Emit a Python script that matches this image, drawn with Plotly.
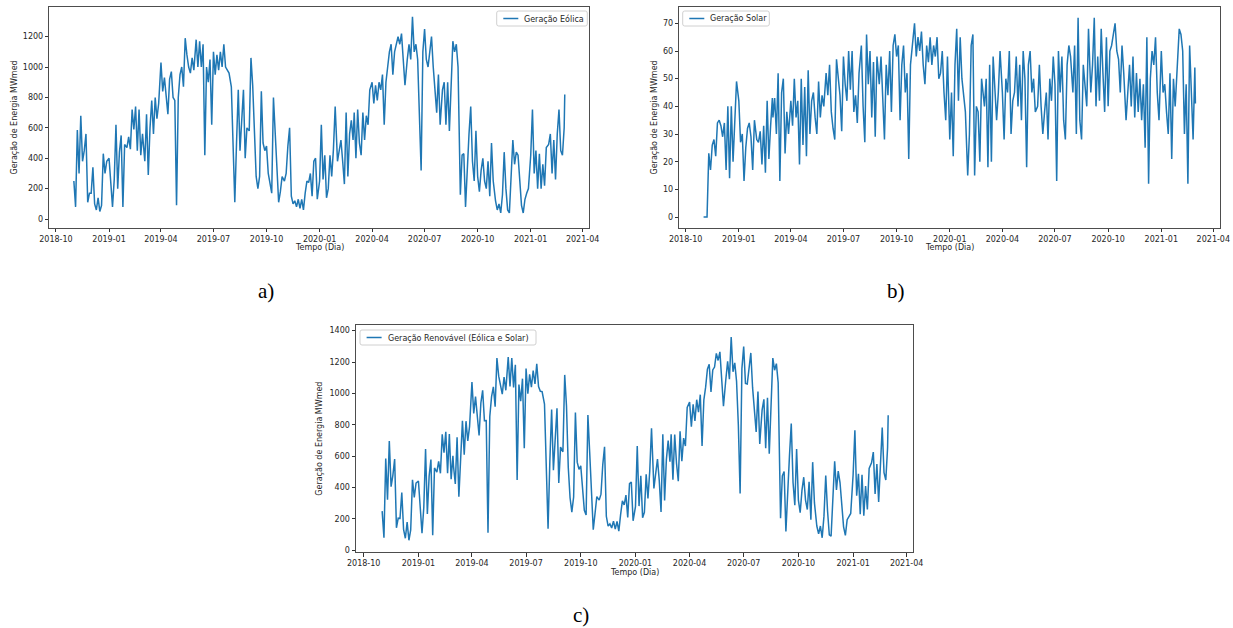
import pandas as pd
import plotly.graph_objects as go

# ---------------- data ----------------
# sampling: days 1,4,...,28 of every month Nov-2018 .. Feb-2021, plus 2021-03-01
MONTHS = pd.date_range("2018-11-01", "2021-02-01", freq="MS")
DAYS = [1, 4, 7, 10, 13, 16, 19, 22, 25, 28]
LAST_DATE = "2021-03-01"

WIND = [
    250, 80, 585, 300, 680, 380, 450, 560, 110, 170,          # 2018-11
    170, 340, 100, 60, 140, 50, 90, 430, 300, 380,            # 2018-12
    400, 260, 80, 260, 620, 200, 440, 550, 80, 490,           # 2019-01
    470, 540, 460, 720, 590, 740, 450, 720, 420, 560,         # 2019-02
    500, 380, 690, 290, 600, 780, 560, 800, 660, 760,         # 2019-03
    1030, 840, 930, 800, 690, 920, 970, 800, 780, 90,         # 2019-04
    800, 950, 1000, 870, 1190, 1080, 1000, 960, 1060, 980,    # 2019-05
    1180, 1000, 1170, 1000, 1150, 420, 1000, 900, 1050, 620,  # 2019-06
    1100, 950, 1080, 980, 1100, 1000, 1150, 1000, 980, 960,   # 2019-07
    870, 450, 110, 500, 850, 450, 700, 850, 400, 600,         # 2019-08
    580, 1060, 880, 500, 280, 200, 280, 840, 500, 450,        # 2019-09
    480, 300, 220, 170, 800, 580, 350, 110, 180, 280,         # 2019-10
    250, 300, 480, 600, 150, 100, 120, 80, 130, 70,           # 2019-11
    130, 60, 170, 250, 240, 300, 150, 380, 400, 130,          # 2019-12
    250, 620, 260, 420, 140, 200, 420, 280, 460, 740,         # 2020-01
    380, 460, 520, 380, 230, 700, 280, 560, 650, 520,         # 2020-02
    700, 400, 720, 500, 420, 700, 520, 680, 620, 850,         # 2020-03
    900, 760, 880, 780, 900, 850, 950, 620, 900, 1000,        # 2020-04
    1100, 1150, 950, 1100, 1150, 1200, 1150, 1220, 1050, 880, # 2020-05
    1050, 1150, 1050, 1330, 1100, 1150, 1050, 750, 320, 1100, # 2020-06
    1250, 1050, 1000, 1100, 1200, 1000, 850, 700, 950, 620,   # 2020-07
    850, 900, 620, 900, 580, 950, 1170, 1100, 1150, 1000,     # 2020-08
    160, 420, 430, 80, 350, 560, 740, 380, 250, 580,          # 2020-09
    280, 180, 320, 400, 250, 200, 380, 150, 500, 250,         # 2020-10
    120, 60, 100, 40, 160, 440, 200, 60, 40, 320,             # 2020-11
    520, 360, 440, 420, 260, 90, 40, 130, 170, 200,           # 2020-12
    420, 720, 300, 450, 200, 430, 200, 360, 220, 470,         # 2021-01
    490, 560, 300, 520, 260, 560, 720, 450, 420, 600,         # 2021-02
    820,                                                      # 2021-03-01
]

SOLAR = [
    0, 0, 0, 23, 17, 26, 28, 22, 34, 35,      # 2018-11
    33, 29, 34, 17, 40, 14, 40, 20, 38, 49,   # 2018-12
    42, 27, 30, 13, 25, 32, 34, 29, 17, 35,   # 2019-01
    28, 27, 31, 19, 33, 16, 42, 21, 33, 43,   # 2019-02
    36, 43, 30, 52, 13, 45, 50, 23, 38, 30,   # 2019-03
    42, 33, 50, 36, 42, 19, 50, 26, 47, 22,   # 2019-04
    53, 30, 42, 45, 36, 30, 49, 36, 44, 40,   # 2019-05
    52, 44, 55, 38, 32, 28, 57, 50, 44, 31,   # 2019-06
    58, 48, 42, 60, 46, 60, 38, 44, 34, 52,   # 2019-07
    62, 40, 27, 66, 48, 60, 36, 56, 29, 58,   # 2019-08
    48, 58, 40, 28, 55, 44, 60, 38, 62, 66,   # 2019-09
    58, 62, 35, 55, 62, 45, 52, 21, 55, 62,   # 2019-10
    70, 58, 65, 60, 67, 55, 48, 62, 56, 65,   # 2019-11
    55, 62, 58, 65, 50, 52, 60, 45, 35, 58,   # 2019-12
    28, 45, 22, 55, 68, 42, 65, 50, 45, 38,   # 2020-01
    15, 30, 62, 66, 15, 40, 38, 20, 50, 45,   # 2020-02
    40, 50, 18, 55, 20, 58, 48, 35, 45, 60,   # 2020-03
    45, 28, 50, 45, 60, 30, 42, 45, 58, 40,   # 2020-04
    55, 35, 60, 50, 18, 55, 60, 45, 50, 38,   # 2020-05
    40, 55, 40, 30, 38, 45, 28, 50, 42, 58,   # 2020-06
    48, 13, 60, 45, 58, 35, 28, 55, 62, 58,   # 2020-07
    45, 62, 30, 72, 35, 28, 55, 48, 40, 68,   # 2020-08
    45, 55, 72, 40, 58, 42, 68, 52, 38, 65,   # 2020-09
    40, 60, 62, 66, 70, 60, 57, 45, 62, 52,   # 2020-10
    35, 45, 55, 40, 58, 36, 52, 38, 50, 35,   # 2020-11
    48, 25, 65, 12, 50, 60, 55, 65, 45, 35,   # 2020-12
    60, 45, 48, 38, 30, 52, 21, 50, 40, 52,   # 2021-01
    68, 66, 60, 30, 48, 12, 62, 45, 28, 54,   # 2021-02
    41,                                       # 2021-03-01
]

TICK_DATES = ["2018-10-01", "2019-01-01", "2019-04-01", "2019-07-01", "2019-10-01",
              "2020-01-01", "2020-04-01", "2020-07-01", "2020-10-01", "2021-01-01",
              "2021-04-01"]
TICK_LABELS = ["2018-10", "2019-01", "2019-04", "2019-07", "2019-10", "2020-01",
               "2020-04", "2020-07", "2020-10", "2021-01", "2021-04"]
Y_TICKS_WIND = [0, 200, 400, 600, 800, 1000, 1200]
Y_TICKS_SOLAR = [0, 10, 20, 30, 40, 50, 60, 70]
Y_TICKS_TOTAL = [0, 200, 400, 600, 800, 1000, 1200, 1400]

LABEL_WIND = "Geração Eólica"
LABEL_SOLAR = "Geração Solar"
LABEL_TOTAL = "Geração Renovável (Eólica e Solar)"
Y_TITLE = "Geração de Energia MWmed"
X_TITLE = "Tempo (Dia)"

# ---------------- build ----------------
dates = [m + pd.Timedelta(days=d - 1) for m in MONTHS for d in DAYS] + [pd.Timestamp(LAST_DATE)]
total = [w + s for w, s in zip(WIND, SOLAR)]   # renewable = wind + solar

W, H = 1233, 628
BLUE = "#1f77b4"
FONT = "DejaVu Sans"
TXT = "#262626"
LW = 1.5


def px_x(p):
    return p / W


def px_y(p):
    return 1 - p / H


fig = go.Figure()
fig.add_trace(go.Scatter(x=dates, y=WIND, mode="lines", name=LABEL_WIND,
                         line=dict(color=BLUE, width=LW), xaxis="x", yaxis="y"))
fig.add_trace(go.Scatter(x=dates, y=SOLAR, mode="lines", name=LABEL_SOLAR,
                         line=dict(color=BLUE, width=LW), xaxis="x2", yaxis="y2"))
fig.add_trace(go.Scatter(x=dates, y=total, mode="lines", name=LABEL_TOTAL,
                         line=dict(color=BLUE, width=LW), xaxis="x3", yaxis="y3"))

axis_common = dict(showgrid=False, zeroline=False, showline=True, linecolor="#4d4d4d",
                   linewidth=1, mirror=True, ticks="outside", ticklen=3.5, tickwidth=0.8,
                   tickcolor="#333333", automargin=False,
                   tickfont=dict(family=FONT, size=8, color=TXT))

xa = dict(axis_common, type="date", tickmode="array", tickvals=TICK_DATES, ticktext=TICK_LABELS)

fig.update_layout(
    width=W, height=H, autosize=False,
    margin=dict(l=0, r=0, t=0, b=0, pad=0),
    paper_bgcolor="white", plot_bgcolor="white",
    showlegend=False,
    xaxis=dict(xa, domain=[px_x(49.3), px_x(589.3)], anchor="y",
               range=["2018-09-19 10:00", "2021-04-12 13:00"]),
    yaxis=dict(axis_common, domain=[px_y(227.7), px_y(7.3)], anchor="x",
               range=[-57, 1393], tickmode="array", tickvals=Y_TICKS_WIND),
    xaxis2=dict(xa, domain=[px_x(679.3), px_x(1220)], anchor="y2",
                range=["2018-09-20 00:00", "2021-04-12 13:00"]),
    yaxis2=dict(axis_common, domain=[px_y(227.7), px_y(7.3)], anchor="x2",
                range=[-3.86, 75.8], tickmode="array", tickvals=Y_TICKS_SOLAR),
    xaxis3=dict(xa, domain=[px_x(356), px_x(913.3)], anchor="y3",
                range=["2018-09-18 00:00", "2021-04-12 06:00"]),
    yaxis3=dict(axis_common, domain=[px_y(552.3), px_y(325)], anchor="x3",
                range=[-12.5, 1436], tickmode="array", tickvals=Y_TICKS_TOTAL),
)

# ---- legends drawn matplotlib-style (compact rounded box, short line sample) ----
shapes = []
ann = []


def rounded_box(x0, x1, y0, y1, r=2.0):
    X = lambda p: px_x(p)
    Y = lambda p: px_y(p)
    path = (f"M {X(x0 + r)},{Y(y0)} L {X(x1 - r)},{Y(y0)} Q {X(x1)},{Y(y0)} {X(x1)},{Y(y0 + r)} "
            f"L {X(x1)},{Y(y1 - r)} Q {X(x1)},{Y(y1)} {X(x1 - r)},{Y(y1)} "
            f"L {X(x0 + r)},{Y(y1)} Q {X(x0)},{Y(y1)} {X(x0)},{Y(y1 - r)} "
            f"L {X(x0)},{Y(y0 + r)} Q {X(x0)},{Y(y0)} {X(x0 + r)},{Y(y0)} Z")
    return dict(type="path", path=path, xref="paper", yref="paper",
                line=dict(color="#d0d0d0", width=1), fillcolor="rgba(255,255,255,0.85)",
                layer="above")


for label, bx0, bx1, by0, by1 in [(LABEL_WIND, 496.7, 587.3, 11, 26),
                                  (LABEL_SOLAR, 682.7, 769.3, 11, 26),
                                  (LABEL_TOTAL, 360, 536, 330, 345)]:
    shapes.append(rounded_box(bx0, bx1, by0, by1))
    ly = (by0 + by1) / 2
    shapes.append(dict(type="line", xref="paper", yref="paper",
                       x0=px_x(bx0 + 6.6), x1=px_x(bx0 + 21.6), y0=px_y(ly), y1=px_y(ly),
                       line=dict(color=BLUE, width=LW), layer="above"))
    ann.append(dict(text=label, x=px_x(bx0 + 25.6), y=px_y(ly), xref="paper", yref="paper",
                    xanchor="left", yanchor="middle", showarrow=False,
                    font=dict(family=FONT, size=8, color=TXT)))

for cx, cy in [(14, 117.5), (654, 117.5), (320, 438.7)]:
    ann.append(dict(text=Y_TITLE, x=px_x(cx), y=px_y(cy), xref="paper", yref="paper",
                    xanchor="center", yanchor="middle", textangle=-90, showarrow=False,
                    font=dict(family=FONT, size=8, color=TXT)))
for cx, cy in [(319.3, 247), (949.7, 247), (634.7, 572.3)]:
    ann.append(dict(text=X_TITLE, x=px_x(cx), y=px_y(cy), xref="paper", yref="paper",
                    xanchor="center", yanchor="middle", showarrow=False,
                    font=dict(family=FONT, size=8, color=TXT)))
for t, cx, cy in [("a)", 266, 291), ("b)", 896, 291), ("c)", 581, 615)]:
    ann.append(dict(text=t, x=px_x(cx), y=px_y(cy), xref="paper", yref="paper",
                    xanchor="center", yanchor="middle", showarrow=False,
                    font=dict(family="Liberation Serif", size=21, color="black")))
fig.update_layout(shapes=shapes, annotations=ann)

PAGE_FIX = ("document.body.style.margin='0';document.body.style.padding='0';"
            "document.body.style.overflow='hidden';"
            "document.documentElement.style.overflow='hidden';")
fig.write_html("out.html", config={"responsive": False, "displayModeBar": False},
               post_script=PAGE_FIX)
